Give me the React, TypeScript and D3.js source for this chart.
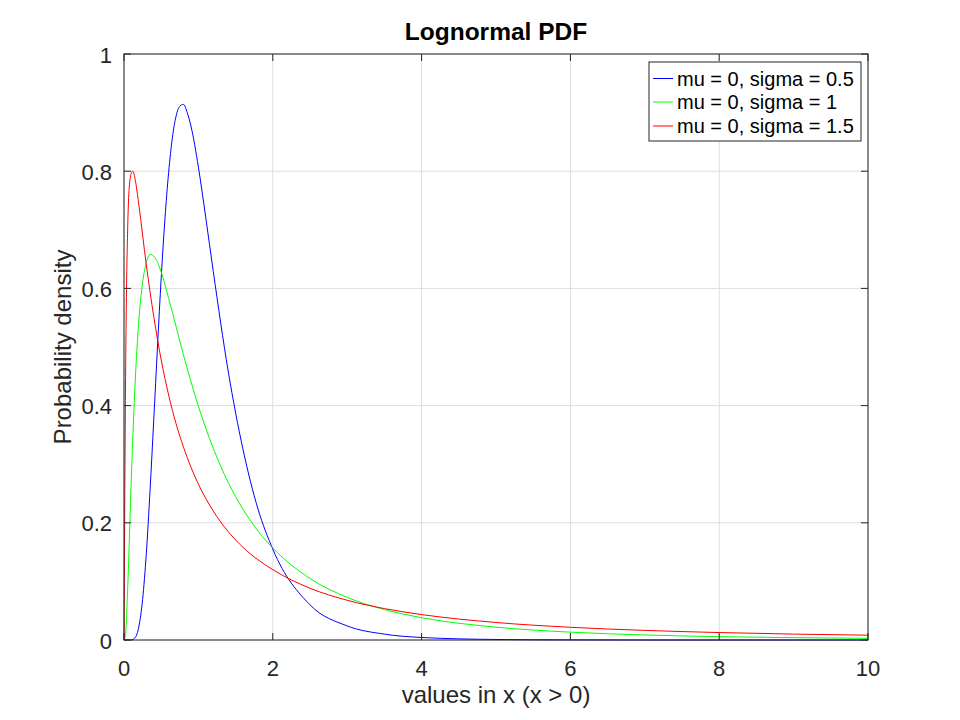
import React from "react";
import * as d3 from "d3";

// x sample positions
const xBlue = [0, 0.1, 0.15, 0.2, 0.25, 0.3, 0.35, 0.4, 0.45, 0.5, 0.55, 0.6, 0.65, 0.7, 0.75, 0.8, 0.85, 0.9, 1.0, 1.1, 1.2, 1.4, 1.6, 1.8, 2.0, 2.5, 3.0, 3.5, 4.0, 5.0, 6.0, 7.0, 8.0, 9.0, 10.0];
const yBlue = [0, 0.0002, 0.004, 0.023, 0.069, 0.148, 0.255, 0.376, 0.5, 0.618, 0.718, 0.798, 0.857, 0.894, 0.911, 0.914, 0.9, 0.877, 0.807, 0.72, 0.629, 0.459, 0.325, 0.224, 0.155, 0.06, 0.024, 0.01, 0.0043, 0.0009, 0.0002, 0, 0, 0, 0];

const xGreen = [0, 0.02, 0.05, 0.1, 0.15, 0.2, 0.25, 0.3, 0.35, 0.4, 0.5, 0.6, 0.7, 0.8, 0.9, 1.0, 1.2, 1.4, 1.6, 1.8, 2.0, 2.5, 3.0, 3.5, 4.0, 5.0, 6.0, 7.0, 8.0, 9.0, 10.0];
const yGreen = [0, 0.0095, 0.09, 0.282, 0.44, 0.546, 0.61, 0.644, 0.658, 0.655, 0.628, 0.583, 0.535, 0.486, 0.441, 0.399, 0.327, 0.269, 0.223, 0.186, 0.157, 0.105, 0.0727, 0.052, 0.0381, 0.0219, 0.0134, 0.0086, 0.0057, 0.004, 0.0028];

const xRed = [0, 0.005, 0.01, 0.02, 0.03, 0.05, 0.07, 0.1, 0.12, 0.15, 0.2, 0.3, 0.4, 0.5, 0.6, 0.7, 0.8, 0.9, 1.0, 1.2, 1.4, 1.6, 1.8, 2.0, 2.5, 3.0, 3.5, 4.0, 5.0, 6.0, 7.0, 8.0, 9.0, 10.0];
const yRed = [0, 0.1, 0.23, 0.43, 0.56, 0.705, 0.772, 0.797, 0.8, 0.786, 0.742, 0.64, 0.552, 0.478, 0.418, 0.369, 0.329, 0.295, 0.266, 0.22, 0.185, 0.158, 0.137, 0.12, 0.0883, 0.0678, 0.0536, 0.0434, 0.0299, 0.0217, 0.0164, 0.0127, 0.0101, 0.0082];

const seriesNames = ["mu = 0, sigma = 0.5", "mu = 0, sigma = 1", "mu = 0, sigma = 1.5"];
const seriesColors = ["#0000ff", "#00ff00", "#ff0000"];

const xTicks = [0, 2, 4, 6, 8, 10];
const yTicks = [0, 0.2, 0.4, 0.6, 0.8, 1];

const title = "Lognormal PDF";
const xLabel = "values in x (x > 0)";
const yLabel = "Probability density";

export default function App() {
  const W = 960, H = 720;
  const L = 124, R = 868, T = 54, B = 640;
  const x = d3.scaleLinear().domain([0, 10]).range([L, R]);
  const y = d3.scaleLinear().domain([0, 1]).range([B, T]);
  const line = d3
    .line<[number, number]>()
    .x((d) => x(d[0]))
    .y((d) => y(d[1]))
    .curve(d3.curveMonotoneX);
  const series: [number[], number[]][] = [
    [xBlue, yBlue],
    [xGreen, yGreen],
    [xRed, yRed],
  ];
  const font = "'Liberation Sans', Arial, Helvetica, sans-serif";
  const tick = 7;
  const lg = { x: 649, y: 62, w: 212, h: 79 };
  const rowY = [78.5, 102, 126];
  return (
    <svg width={W} height={H} style={{ position: "absolute", left: 0, top: 0, background: "#fff" }} fontFamily={font}>
      <rect x={0} y={0} width={W} height={H} fill="#fff" />
      {/* grid */}
      {xTicks.map((t) => (
        <line key={"gx" + t} x1={x(t)} x2={x(t)} y1={T} y2={B} stroke="#dedede" strokeWidth={1} />
      ))}
      {yTicks.map((t) => (
        <line key={"gy" + t} x1={L} x2={R} y1={y(t)} y2={y(t)} stroke="#dedede" strokeWidth={1} />
      ))}
      {/* series */}
      {series.map(([xs, ys], i) => (
        <path
          key={"s" + i}
          d={line(xs.map((v, j) => [v, ys[j]] as [number, number])) || ""}
          fill="none"
          stroke={seriesColors[i]}
          strokeWidth={1}
        />
      ))}
      {/* frame */}
      <rect x={L} y={T} width={R - L} height={B - T} fill="none" stroke="#262626" strokeWidth={1} />
      {xTicks.map((t) => (
        <g key={"tx" + t}>
          <line x1={x(t)} x2={x(t)} y1={B} y2={B - tick} stroke="#262626" />
          <line x1={x(t)} x2={x(t)} y1={T} y2={T + tick} stroke="#262626" />
          <text x={x(t)} y={B + 36} textAnchor="middle" fontSize={22} fill="#262626">
            {t}
          </text>
        </g>
      ))}
      {yTicks.map((t) => (
        <g key={"ty" + t}>
          <line x1={L} x2={L + tick} y1={y(t)} y2={y(t)} stroke="#262626" />
          <line x1={R} x2={R - tick} y1={y(t)} y2={y(t)} stroke="#262626" />
          <text x={L - 12} y={y(t) + 8.5} textAnchor="end" fontSize={22} fill="#262626">
            {String(t)}
          </text>
        </g>
      ))}
      {/* labels */}
      <text x={(L + R) / 2} y={40} textAnchor="middle" fontSize={24.5} fontWeight="bold" fill="#000">
        {title}
      </text>
      <text x={(L + R) / 2} y={703} textAnchor="middle" fontSize={24} fill="#262626">
        {xLabel}
      </text>
      <text
        transform={`translate(${71},${(T + B) / 2}) rotate(-90)`}
        textAnchor="middle"
        fontSize={24}
        fill="#262626"
      >
        {yLabel}
      </text>
      {/* legend */}
      <rect x={lg.x} y={lg.y} width={lg.w} height={lg.h} fill="#fff" stroke="#262626" strokeWidth={1} />
      {seriesNames.map((n, i) => (
        <g key={"lg" + i}>
          <line x1={653} x2={673} y1={rowY[i]} y2={rowY[i]} stroke={seriesColors[i]} strokeWidth={1} />
          <text x={677} y={rowY[i] + 7} fontSize={20} fill="#000">
            {n}
          </text>
        </g>
      ))}
    </svg>
  );
}
